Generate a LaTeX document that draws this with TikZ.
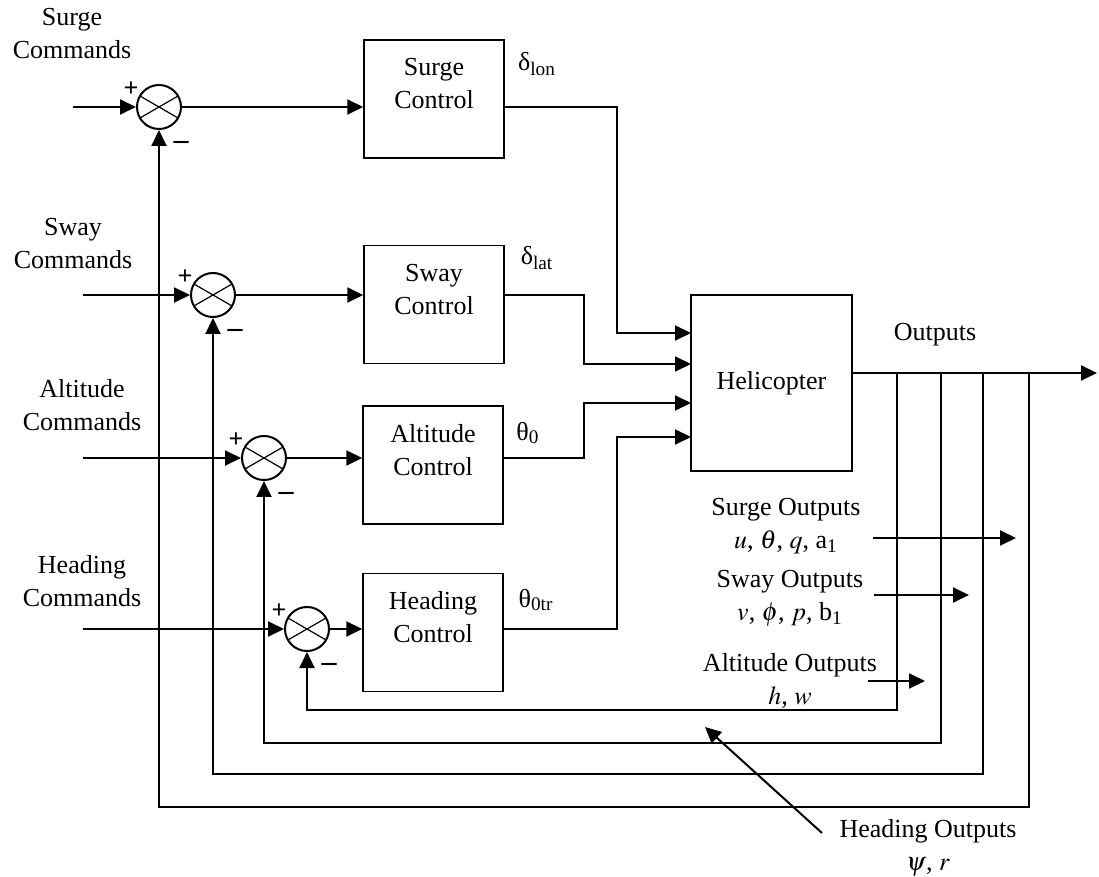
\documentclass[tikz,border=0pt]{standalone}
\usepackage{mathptmx}
\usepackage{fontspec}
\setmainfont{Liberation Serif}
\usepackage{tikz}
\usetikzlibrary{arrows.meta}

\begin{document}
\begin{tikzpicture}[x=0.5pt, y=-0.5pt, font=\fontsize{13}{16.5}\selectfont,
  block/.style={draw, line width=0.75pt, minimum width=70pt, minimum height=59pt,
    label={[align=center, yshift=7.5pt]center:#1}},
  sign/.style={inner sep=0pt, font=\fontsize{13}{13}\selectfont\bfseries},
  sumjn/.style={circle, draw, line width=1pt, minimum size=22pt, inner sep=0pt,
    path picture={\draw[line width=0.6pt]
      ([shift={(150:12pt)}]path picture bounding box.center) -- ([shift={(-30:12pt)}]path picture bounding box.center)
      ([shift={(30:12pt)}]path picture bounding box.center) -- ([shift={(210:12pt)}]path picture bounding box.center);},
    label={[sign, xshift=-14pt, yshift=9pt]center:+},
    label={[sign, font=\fontsize{15}{15}\selectfont\bfseries, xshift=11pt, yshift=-19pt]center:--}},
  sig/.style={line width=1pt, -{Triangle[length=8pt, width=7.5pt]}},
  fb/.style={line width=1pt},
  cmd/.style={align=center}]
\useasboundingbox (0,0) rectangle (1099,877);

% command inputs
\node[cmd] (sCmd) at (72,34) {Surge\\Commands};
\node[cmd] (wCmd) at (73,244) {Sway\\Commands};
\node[cmd] (aCmd) at (82,405) {Altitude\\Commands};
\node[cmd] (hCmd) at (82,581) {Heading\\Commands};
\coordinate (sIn) at (73,107);
\coordinate (wIn) at (83,295);
\coordinate (aIn) at (83,458);
\coordinate (hIn) at (83,629);

% summing junctions
\node[sumjn] (sSum) at (159,107) {};
\node[sumjn] (wSum) at (213,295) {};
\node[sumjn] (aSum) at (264,458) {};
\node[sumjn] (hSum) at (307,629) {};

% controllers and plant
\node[block={Surge\\Control}] (sCtl) at (434,99) {};
\node[block={Sway\\Control}] (wCtl) at (434,304.5) {};
\node[block={Altitude\\Control}] (aCtl) at (433,465) {};
\node[block={Heading\\Control}] (hCtl) at (433,632.5) {};
\node[draw, line width=0.75pt, minimum width=80.5pt, minimum height=88pt] (heli) at (771.5,383) {Helicopter};
\coordinate (hi1) at (691,333);
\coordinate (hi2) at (691,364);
\coordinate (hi3) at (691,403);
\coordinate (hi4) at (691,437);

% control signals
\node (dLon) at (537,64) {δ\textsubscript{lon}};
\node (dLat) at (537,258) {δ\textsubscript{lat}};
\node (th0) at (528,433) {θ\textsubscript{0}};
\node (th0tr) at (536,600) {θ\textsubscript{0tr}};

\draw[sig] (sIn) -- (sSum);
\draw[sig] (wIn) -- (wSum);
\draw[sig] (aIn) -- (aSum);
\draw[sig] (hIn) -- (hSum);
\draw[sig] (sSum) -- (sSum -| sCtl.west);
\draw[sig] (wSum) -- (wSum -| wCtl.west);
\draw[sig] (aSum) -- (aSum -| aCtl.west);
\draw[sig] (hSum) -- (hSum -| hCtl.west);
\draw[sig] (sSum -| sCtl.east) -- ++(112,0) |- (hi1);
\draw[sig] (wSum -| wCtl.east) -- ++(79,0) |- (hi2);
\draw[sig] (aSum -| aCtl.east) -- ++(80,0) |- (hi3);
\draw[sig] (hSum -| hCtl.east) -- ++(113,0) |- (hi4);

% outputs and feedback
\node (outLbl) at (935,335) {Outputs};
\coordinate (outEnd) at (1097,373);
\draw[sig] (heli.east |- outEnd) -- (outEnd);
\coordinate (tap1) at (897,373);
\coordinate (tap2) at (941,373);
\coordinate (tap3) at (983,373);
\coordinate (tap4) at (1029,373);
\draw[sig] (tap1) -- ++(0,337) -| (hSum.south);
\draw[sig] (tap2) -- ++(0,370) -| (aSum.south);
\draw[sig] (tap3) -- ++(0,401) -| (wSum.south);
\draw[sig] (tap4) -- ++(0,434) -| (sSum.south);

\node[cmd] (sOut) at (786,526) {Surge Outputs\\$u$, $\theta$, $q$, a\textsubscript{1}};
\node[cmd] (wOut) at (790,598) {Sway Outputs\\$v$, $\phi$, $p$, b\textsubscript{1}};
\node[cmd] (aOut) at (790,681) {Altitude Outputs\\$h$, $w$};
\node[cmd] (hOut) at (928,848) {Heading Outputs\\$\psi$, $r$};
\coordinate (sOutA) at (873,538);
\coordinate (sOutB) at (1016,538);
\coordinate (wOutA) at (874,595);
\coordinate (wOutB) at (969,595);
\coordinate (aOutA) at (868,681);
\coordinate (aOutB) at (925,681);
\coordinate (hOutA) at (822,833);
\coordinate (hOutB) at (705,727);
\draw[sig] (sOutA) -- (sOutB);
\draw[sig] (wOutA) -- (wOutB);
\draw[sig] (aOutA) -- (aOutB);
\draw[sig] (hOutA) -- (hOutB);
\end{tikzpicture}
\end{document}
